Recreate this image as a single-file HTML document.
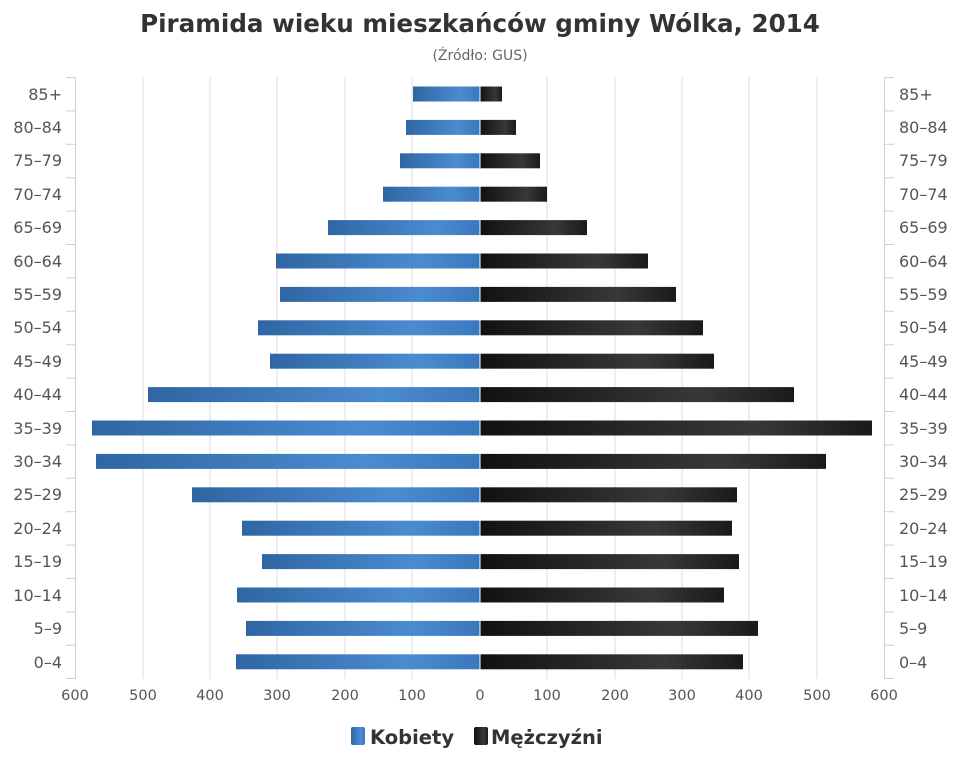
<!DOCTYPE html>
<html><head><meta charset="utf-8"><style>
body{margin:0;background:#fff;}
svg{display:block;font-family:"DejaVu Sans","Liberation Sans",sans-serif;}
</style></head><body>
<svg width="960" height="768" viewBox="0 0 960 768">
<defs>
<linearGradient id="b" x1="0" y1="0" x2="1" y2="0"><stop offset="0" stop-color="#2f66a3"/><stop offset="0.7" stop-color="#4b8bd0"/><stop offset="1" stop-color="#3a78bd"/></linearGradient>
<linearGradient id="k" x1="0" y1="0" x2="1" y2="0"><stop offset="0" stop-color="#111"/><stop offset="0.7" stop-color="#383838"/><stop offset="1" stop-color="#1a1a1a"/></linearGradient>
</defs>
<text x="480" y="32" text-anchor="middle" font-size="24.6" font-weight="bold" fill="#333">Piramida wieku mieszkańców gminy Wólka, 2014</text>
<text x="480" y="60" text-anchor="middle" font-size="14" fill="#666">(Źródło: GUS)</text>
<g stroke="#dcdcdc" stroke-width="1">
<line x1="143" y1="77" x2="143" y2="679"/><line x1="210" y1="77" x2="210" y2="679"/><line x1="277" y1="77" x2="277" y2="679"/><line x1="345" y1="77" x2="345" y2="679"/><line x1="412" y1="77" x2="412" y2="679"/><line x1="480" y1="77" x2="480" y2="679"/><line x1="547" y1="77" x2="547" y2="679"/><line x1="615" y1="77" x2="615" y2="679"/><line x1="682" y1="77" x2="682" y2="679"/><line x1="749" y1="77" x2="749" y2="679"/><line x1="817" y1="77" x2="817" y2="679"/>
</g>
<g stroke="#c8d0dc" stroke-width="1">
<line x1="75.5" y1="77" x2="75.5" y2="679"/><line x1="884.5" y1="77" x2="884.5" y2="679"/>
<path d="M66 77.5h10M66 110.9h10M66 144.3h10M66 177.7h10M66 211.1h10M66 244.5h10M66 277.9h10M66 311.3h10M66 344.7h10M66 378.1h10M66 411.5h10M66 444.9h10M66 478.3h10M66 511.7h10M66 545.1h10M66 578.5h10M66 611.9h10M66 645.3h10M66 678.5h10"/>
<path d="M884 77.5h10M884 110.9h10M884 144.3h10M884 177.7h10M884 211.1h10M884 244.5h10M884 277.9h10M884 311.3h10M884 344.7h10M884 378.1h10M884 411.5h10M884 444.9h10M884 478.3h10M884 511.7h10M884 545.1h10M884 578.5h10M884 611.9h10M884 645.3h10M884 678.5h10"/>
</g>
<g fill="url(#b)">
<rect x="413" y="86.5" width="67" height="15"/><rect x="406" y="119.9" width="74" height="15"/><rect x="400" y="153.3" width="80" height="15"/><rect x="383" y="186.7" width="97" height="15"/><rect x="328" y="220.1" width="152" height="15"/><rect x="276" y="253.5" width="204" height="15"/><rect x="280" y="286.9" width="200" height="15"/><rect x="258" y="320.3" width="222" height="15"/><rect x="270" y="353.7" width="210" height="15"/><rect x="148" y="387.1" width="332" height="15"/><rect x="92" y="420.5" width="388" height="15"/><rect x="96" y="453.9" width="384" height="15"/><rect x="192" y="487.3" width="288" height="15"/><rect x="242" y="520.7" width="238" height="15"/><rect x="262" y="554.1" width="218" height="15"/><rect x="237" y="587.5" width="243" height="15"/><rect x="246" y="620.9" width="234" height="15"/><rect x="236" y="654.3" width="244" height="15"/>
</g>
<g fill="url(#k)">
<rect x="480" y="86.5" width="22" height="15"/><rect x="480" y="119.9" width="36" height="15"/><rect x="480" y="153.3" width="60" height="15"/><rect x="480" y="186.7" width="67" height="15"/><rect x="480" y="220.1" width="107" height="15"/><rect x="480" y="253.5" width="168" height="15"/><rect x="480" y="286.9" width="196" height="15"/><rect x="480" y="320.3" width="223" height="15"/><rect x="480" y="353.7" width="234" height="15"/><rect x="480" y="387.1" width="314" height="15"/><rect x="480" y="420.5" width="392" height="15"/><rect x="480" y="453.9" width="346" height="15"/><rect x="480" y="487.3" width="257" height="15"/><rect x="480" y="520.7" width="252" height="15"/><rect x="480" y="554.1" width="259" height="15"/><rect x="480" y="587.5" width="244" height="15"/><rect x="480" y="620.9" width="278" height="15"/><rect x="480" y="654.3" width="263" height="15"/>
</g>
<line x1="480" y1="77" x2="480" y2="679" stroke="#fff" stroke-width="1"/>
<g font-size="16" fill="#555" text-anchor="end">
<text x="62" y="100">85+</text><text x="62" y="133">80–84</text><text x="62" y="166">75–79</text><text x="62" y="200">70–74</text><text x="62" y="233">65–69</text><text x="62" y="267">60–64</text><text x="62" y="300">55–59</text><text x="62" y="333">50–54</text><text x="62" y="367">45–49</text><text x="62" y="400">40–44</text><text x="62" y="434">35–39</text><text x="62" y="467">30–34</text><text x="62" y="500">25–29</text><text x="62" y="534">20–24</text><text x="62" y="567">15–19</text><text x="62" y="601">10–14</text><text x="62" y="634">5–9</text><text x="62" y="668">0–4</text>
</g>
<g font-size="16" fill="#555">
<text x="899" y="100">85+</text><text x="899" y="133">80–84</text><text x="899" y="166">75–79</text><text x="899" y="200">70–74</text><text x="899" y="233">65–69</text><text x="899" y="267">60–64</text><text x="899" y="300">55–59</text><text x="899" y="333">50–54</text><text x="899" y="367">45–49</text><text x="899" y="400">40–44</text><text x="899" y="434">35–39</text><text x="899" y="467">30–34</text><text x="899" y="500">25–29</text><text x="899" y="534">20–24</text><text x="899" y="567">15–19</text><text x="899" y="601">10–14</text><text x="899" y="634">5–9</text><text x="899" y="668">0–4</text>
</g>
<g font-size="14.5" fill="#555" text-anchor="middle">
<text x="75" y="700">600</text><text x="143" y="700">500</text><text x="210" y="700">400</text><text x="277" y="700">300</text><text x="345" y="700">200</text><text x="412" y="700">100</text><text x="480" y="700">0</text><text x="547" y="700">100</text><text x="615" y="700">200</text><text x="682" y="700">300</text><text x="749" y="700">400</text><text x="817" y="700">500</text><text x="884" y="700">600</text>
</g>
<rect x="351" y="727" width="14" height="18" rx="2" fill="url(#b)"/>
<text x="370" y="744" font-size="19.5" font-weight="bold" fill="#333">Kobiety</text>
<rect x="474" y="727" width="14" height="18" rx="2" fill="url(#k)"/>
<text x="491" y="744" font-size="19.5" font-weight="bold" fill="#333">Mężczyźni</text>
</svg>
</body></html>
